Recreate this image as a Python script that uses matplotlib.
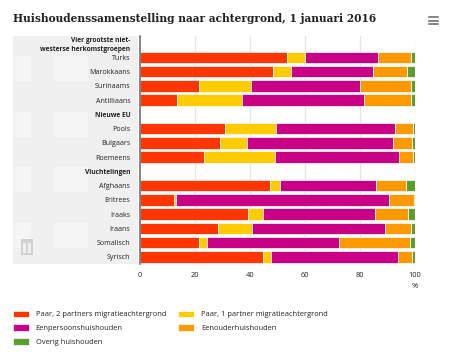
import matplotlib
matplotlib.use("Agg")
import matplotlib.pyplot as plt
from matplotlib.patches import Rectangle

W, H = 455, 362
plt.rcParams['font.family'] = ['Open Sans', 'DejaVu Sans']

labels = ["Vier grootste niet-\nwesterse herkomstgroepen", "Turks", "Marokkaans", "Surinaams", "Antilliaans",
          "Nieuwe EU", "Pools", "Bulgaars", "Roemeens",
          "Vluchtelingen", "Afghaans", "Eritrees", "Iraaks", "Iraans", "Somalisch", "Syrisch"]
headers = [0, 5, 9]

paar2 =    [0, 53.3, 48.2, 21.6, 13.3, 0, 30.9, 29.0, 23.4, 0, 47.3, 12.4, 39.3, 28.5, 21.6, 44.8]
paar1 =    [0, 6.6, 6.8, 18.6, 23.7, 0, 18.6, 10.0, 25.6, 0, 3.5, 0.6, 5.3, 12.2, 2.6, 3.0]
eenpers =  [0, 26.5, 29.6, 39.8, 44.6, 0, 43.2, 53.1, 45.3, 0, 35.0, 77.7, 40.9, 48.5, 48.3, 45.9]
eenouder = [0, 12.1, 12.4, 18.7, 17.1, 0, 6.7, 6.9, 5.1, 0, 10.8, 8.9, 12.1, 9.5, 25.8, 5.3]
overig =   [0, 1.5, 3.0, 1.3, 1.3, 0, 0.6, 1.0, 0.6, 0, 3.4, 0.4, 2.4, 1.3, 1.7, 1.0]

series = [("Paar, 2 partners migratieachtergrond", paar2, "#ff3600"),
          ("Paar, 1 partner migratieachtergrond", paar1, "#ffcc00"),
          ("Eenpersoonshuishouden", eenpers, "#c90085"),
          ("Eenouderhuishouden", eenouder, "#ff9900"),
          ("Overig huishouden", overig, "#5c9e2e")]
xticks = [0, 20, 40, 60, 80, 100]

fig = plt.figure(figsize=(W / 100, H / 100), dpi=100, facecolor="white")
ax = fig.add_axes([140 / W, 1 - 264 / H, 275 / W, 228 / H])


def px_rect(x, y, w, h, **kw):
    fig.add_artist(Rectangle((x / W, 1 - (y + h) / H), w / W, h / H, transform=fig.transFigure, **kw))


# grey panel behind the labels + faint watermark blocks
px_rect(13, 36, 125, 228, fc="#f0f0f0", ec="none", zorder=-5)
for x0, w0 in [(15, 16), (54, 34)]:
    for y0 in [56, 112, 167, 223]:
        px_rect(x0, y0, w0, 25, fc="#f5f5f5", ec="none", zorder=-4)
# logo
px_rect(21, 239, 12, 16, fc="#d2d2d2", ec="none", zorder=-3)
px_rect(23, 243, 3, 10, fc="#f0f0f0", ec="none", zorder=-3)
px_rect(28, 243, 3, 10, fc="#f0f0f0", ec="none", zorder=-3)

ax.patch.set_alpha(0)
ypos = list(range(len(labels)))
left = [0] * len(labels)
handles = []
for name, vals, col in series:
    b = ax.barh(ypos, vals, left=left, height=0.8, color=col, edgecolor="white", linewidth=0.5, label=name, zorder=3)
    handles.append(b)
    left = [l + v for l, v in zip(left, vals)]

ax.set_xlim(0, 100)
ax.set_ylim(len(labels) - 0.5, -0.5)
ax.set_xticks(xticks)
ax.set_yticks(ypos)
ax.set_yticklabels(labels, fontsize=5.1, color="#222222", linespacing=1.45)
for i in headers:
    ax.get_yticklabels()[i].set_fontweight("bold")
    ax.get_yticklabels()[i].set_fontsize(4.8)
ax.tick_params(axis="y", length=0, pad=7)
ax.tick_params(axis="x", length=0, pad=6, labelsize=5.4, labelcolor="#222222")
ax.grid(axis="x", color="#e6e6e6", linewidth=1, zorder=0)
ax.set_axisbelow(True)
for s in ["top", "right", "bottom"]:
    ax.spines[s].set_visible(False)
ax.spines["left"].set_color("#666666")
ax.spines["left"].set_linewidth(1.1)
ax.spines["left"].set_zorder(5)

fig.text(415 / W, 1 - 287 / H, "%", fontsize=5.4, ha="center", va="center", color="#222222")
fig.text(13 / W, 1 - 18.5 / H, "Huishoudenssamenstelling naar achtergrond, 1 januari 2016",
         fontsize=7.7, fontweight="bold", family=["DejaVu Serif"], color="#222222", va="center", ha="left")

# menu icon
for yy in [17, 20.5, 24]:
    fig.add_artist(plt.Line2D([428.5 / W, 437.5 / W], [1 - yy / H] * 2, color="#666666", linewidth=1.1))

order = [handles[0], handles[2], handles[4], handles[1], handles[3]]
fig.legend(order, [h.get_label() for h in order], ncols=2, loc="upper left",
           bbox_to_anchor=(11 / W, 1 - 309 / H), frameon=False, fontsize=5.4, labelcolor="#222222",
           handlelength=2.15, handleheight=1.0, handletextpad=0.95, columnspacing=1.6, labelspacing=0.8,
           borderpad=0.2, borderaxespad=0)

fig.savefig("out.png", dpi=100)
